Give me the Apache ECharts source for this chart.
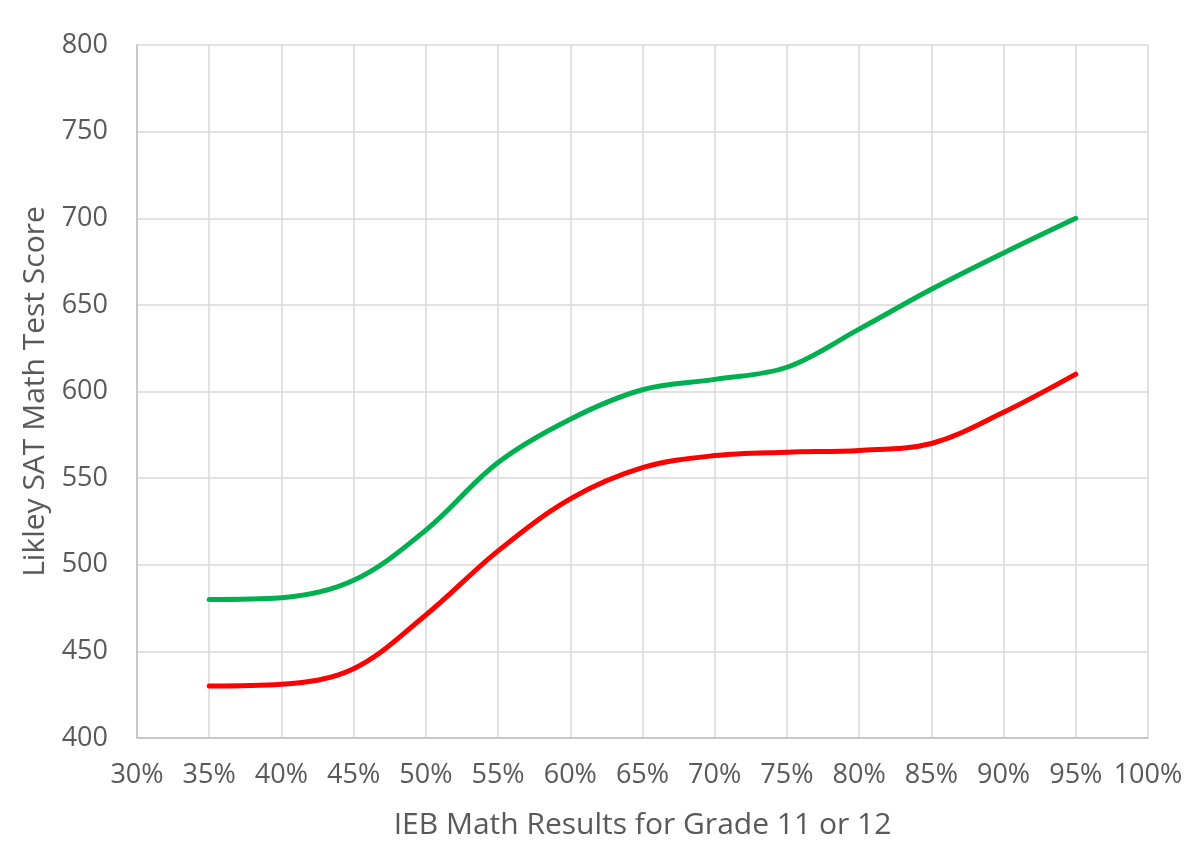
<!DOCTYPE html>
<html>
<head>
<meta charset="utf-8">
<script src="https://cdn.jsdelivr.net/npm/echarts@6/dist/echarts.min.js"></script>
<style>
  html, body { margin: 0; padding: 0; background: #fff; }
  #chart { width: 1200px; height: 863px; }
</style>
</head>
<body>
<div id="chart"></div>
<script>
// IEB result (percent) read at every gridline
var ieb = [35, 40, 45, 50, 55, 60, 65, 70, 75, 80, 85, 90, 95];
// upper and lower likely SAT score
var satHigh = [480, 481, 491, 520, 559, 584, 601, 607, 614, 636, 659, 680, 700];
var satLow = [430, 431, 440, 471, 508, 538, 556, 563, 565, 566, 570, 588, 610];

var textColor = '#595959';
var fontName = '"Open Sans", "Liberation Sans", sans-serif';

function pairs(xs, ys) {
  return xs.map(function (x, i) { return [x, ys[i]]; });
}

var myChart = echarts.init(document.getElementById('chart'));
var option = {
  animation: false,
  backgroundColor: '#ffffff',
  grid: { left: 137, right: 52, top: 45, bottom: 125 },
  xAxis: {
    type: 'value',
    min: 30,
    max: 100,
    interval: 5,
    name: 'IEB Math Results for Grade 11 or 12',
    nameLocation: 'middle',
    nameGap: 72,
    nameTextStyle: { color: textColor, fontSize: 30, fontFamily: fontName },
    axisLine: { show: true, lineStyle: { color: '#bfbfbf', width: 1.5 } },
    axisTick: { show: false },
    axisLabel: {
      color: textColor, fontSize: 27, fontFamily: fontName, margin: 24,
      formatter: '{value}%'
    },
    splitLine: { show: true, lineStyle: { color: '#d9d9d9', width: 1.5 } }
  },
  yAxis: {
    type: 'value',
    min: 400,
    max: 800,
    interval: 50,
    name: 'Likley SAT Math Test Score',
    nameLocation: 'middle',
    nameGap: 86,
    nameTextStyle: { color: textColor, fontSize: 30, fontFamily: fontName },
    axisLine: { show: true, lineStyle: { color: '#bfbfbf', width: 1.5 } },
    axisTick: { show: false },
    axisLabel: { color: textColor, fontSize: 27, fontFamily: fontName, margin: 29 },
    splitLine: { show: true, lineStyle: { color: '#d9d9d9', width: 1.5 } }
  },
  series: [
    {
      name: 'High',
      type: 'line',
      smooth: 0.35,
      symbol: 'none',
      lineStyle: { color: '#00b050', width: 5, cap: 'round' },
      data: pairs(ieb, satHigh)
    },
    {
      name: 'Low',
      type: 'line',
      smooth: 0.35,
      symbol: 'none',
      lineStyle: { color: '#ff0000', width: 5, cap: 'round' },
      data: pairs(ieb, satLow)
    }
  ]
};
myChart.setOption(option);
</script>
</body>
</html>
